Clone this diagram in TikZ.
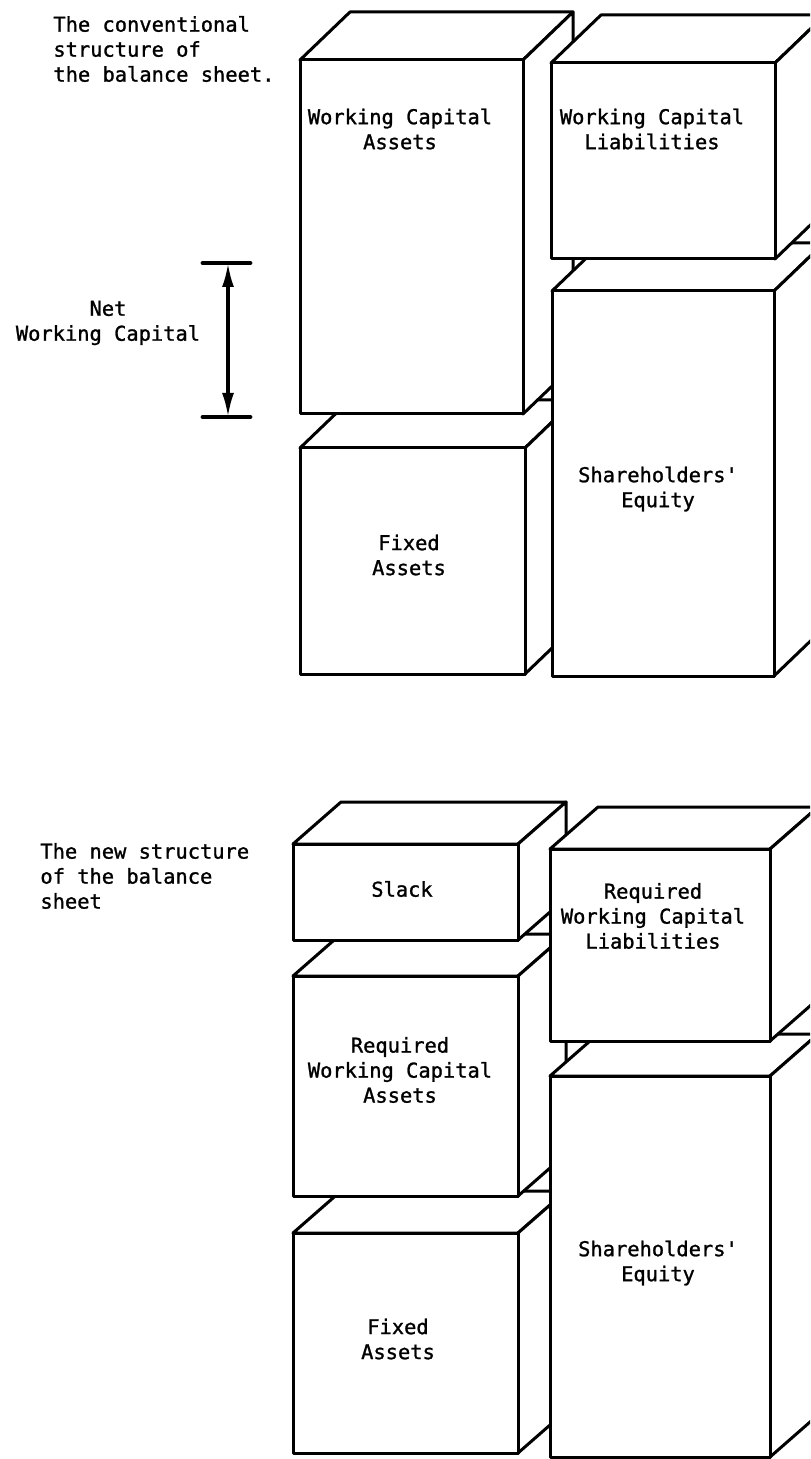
\documentclass[tikz,border=0pt]{standalone}
\usepackage{fontspec}
\setmonofont[FakeBold=1.2]{DejaVu Sans Mono}
\usetikzlibrary{arrows.meta}

% one pixel of the page = 0.5pt, y runs downwards
\tikzset{
  boxline/.style={black,line width=1.5pt,line join=round,fill=white},
  boxtext/.style={font=\ttfamily\fontsize{10.2}{12.5}\selectfont,align=center,inner sep=0pt},
  sidetext/.style={boxtext,align=left,anchor=west},
  barline/.style={line width=2.4pt,line cap=round},
  nwcarrow/.style={line width=1.6pt,{Latex[length=12pt,width=6pt]}-{Latex[length=12pt,width=6pt]}},
}
\newcommand{\bdx}{50}
\newcommand{\bdy}{48}
% name, front top-left x y, front bottom-right x y
\newcommand{\sheetbox}[5]{%
  \coordinate (#1-nw) at (#2,#3);
  \coordinate (#1-se) at (#4,#5);
  \draw[boxline] (#2,#3) -- (#2+\bdx,#3-\bdy) -- (#4+\bdx,#3-\bdy) -- (#4,#3) -- cycle;
  \draw[boxline] (#4,#3) -- (#4+\bdx,#3-\bdy) -- (#4+\bdx,#5-\bdy) -- (#4,#5) -- cycle;
  \draw[boxline] (#1-nw) rectangle (#1-se);
}

\begin{document}
\begin{tikzpicture}[x=0.5pt,y=-0.5pt]
\useasboundingbox (0,0) rectangle (810,1459);
\clip (0,0) rectangle (810,1459);

% conventional balance sheet
\sheetbox{fa}{300}{448}{525}{674}
\sheetbox{wca}{300}{60}{523}{414}
\sheetbox{se}{552}{291}{774}{676}
\sheetbox{wcl}{551}{63}{775}{259}

\node[sidetext] (cap1) at (53,49) {The conventional\\structure of\\the balance sheet.};
\node[boxtext] (wcatext) at (400,129) {Working Capital\\Assets};
\node[boxtext] (wcltext) at (652,129) {Working Capital\\Liabilities};
\node[boxtext] (setext) at (658,489) {Shareholders'\\Equity};
\node[boxtext] (fatext) at (409,555) {Fixed\\Assets};

% net working capital
\coordinate (nwc-top) at (228,263);
\coordinate (nwc-bot) at (228,417);
\draw[barline] (nwc-top) ++(-25,0) -- ++(47,0);
\draw[barline] (nwc-bot) ++(-25,0) -- ++(47,0);
\draw[nwcarrow] (nwc-top) -- (nwc-bot);
\node[boxtext] (nwctext) at (108,323) {Net\\Working Capital};

% new balance sheet
\renewcommand{\bdx}{48}
\renewcommand{\bdy}{42}
\sheetbox{fb}{293}{1233}{518}{1453}
\sheetbox{rwca}{293}{976}{518}{1196}
\sheetbox{slack}{293}{844}{518}{940}
\sheetbox{seb}{550}{1076}{770}{1457}
\sheetbox{rwcl}{550}{849}{770}{1041}

\node[sidetext] (cap2) at (40,876) {The new structure\\of the balance\\sheet};
\node[boxtext] (slacktext) at (402,889) {Slack};
\node[boxtext] (rwcltext) at (653,916) {Required\\Working Capital\\Liabilities};
\node[boxtext] (rwcatext) at (400,1070) {Required\\Working Capital\\Assets};
\node[boxtext] (sebtext) at (658,1263) {Shareholders'\\Equity};
\node[boxtext] (fbtext) at (398,1339) {Fixed\\Assets};
\end{tikzpicture}
\end{document}
